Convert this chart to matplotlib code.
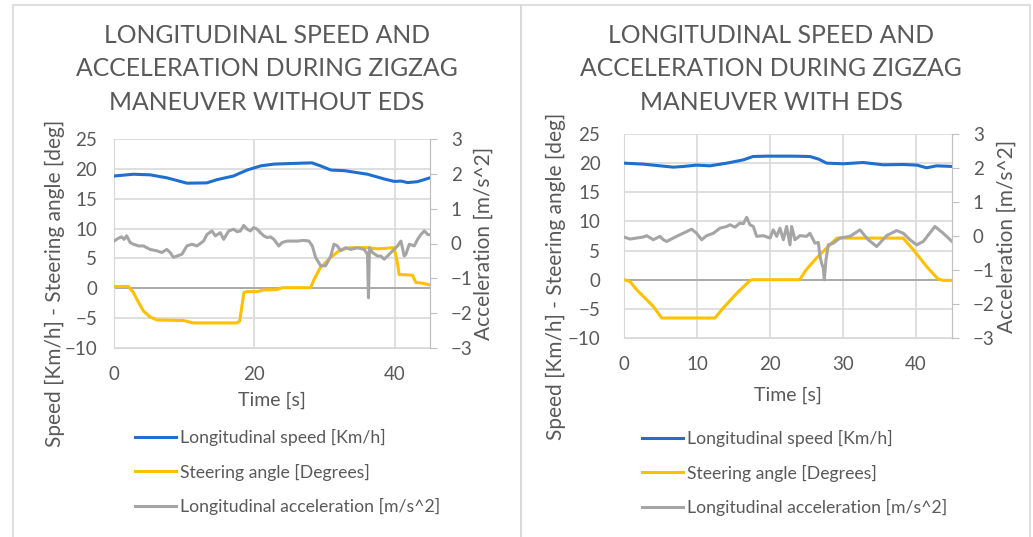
import numpy as np
import matplotlib
matplotlib.use("Agg")
import matplotlib.pyplot as plt
from matplotlib.lines import Line2D
from matplotlib.patches import Rectangle

# ---- data ----
# without EDS
t_spd_a = [0, 2.76, 5.14, 7.52, 10.4, 13.2, 14.7, 17.0, 18.95, 20.9, 22.8, 26.6, 28.2,
           29.4, 30.9, 32.8, 36.1, 38.5, 39.9, 40.9, 41.8, 43.2, 45.0]
spd_a = [18.8, 19.1, 19.0, 18.5, 17.6, 17.65, 18.2, 18.8, 19.8, 20.5, 20.8, 20.95, 21.0,
         20.5, 19.8, 19.7, 19.1, 18.3, 17.9, 17.95, 17.7, 17.85, 18.5]

t_str_a = [0, 2.05, 2.76, 3.24, 4.19, 5.14, 6.1, 9.9, 11.3, 17.5, 17.9, 18.5, 18.95, 20.4,
           21.3, 23.2, 23.95, 28.0, 28.5, 29.4, 30.9, 32.3, 33.7, 36.1, 37.5, 39.9, 40.4,
           40.6, 42.5, 43.0, 43.7, 45.0]
str_a = [0.3, 0.3, -0.7, -1.8, -3.8, -4.8, -5.3, -5.4, -5.8, -5.8, -5.5, -0.7, -0.56, -0.56,
         -0.28, -0.22, 0.1, 0.1, 1.5, 3.5, 5.2, 6.5, 6.8, 6.8, 6.6, 6.8, 4.0, 2.3, 2.2, 0.95,
         0.9, 0.56]

t_acc_a = [0, 0.62, 1.1, 1.43, 1.81, 2.29, 2.76, 3.48, 4.19, 5.14, 6.1, 6.81, 7.52, 8.0,
           8.48, 8.95, 9.67, 10.38, 11.1, 11.8, 12.76, 13.24, 13.95, 14.43, 15.14, 15.62,
           16.33, 17.05, 17.52, 18.0, 18.48, 18.95, 19.43, 19.9, 20.38, 20.86, 21.33, 21.81,
           22.29, 22.76, 23.48, 23.95, 24.67, 25.38, 26.1, 27.05, 27.76, 28.24, 28.71, 29.43,
           30.14, 30.86, 31.33, 31.81, 32.29, 33.0, 33.71, 34.67, 35.62, 36.1, 36.24, 36.38,
           36.81, 37.52, 38.0, 38.48, 38.95, 39.43, 39.9, 40.38, 40.86, 41.33, 41.57, 42.05,
           42.76, 43.24, 43.71, 44.19, 44.67, 45.0]
acc_a = [0.07, 0.15, 0.19, 0.12, 0.22, 0.03, -0.02, -0.07, -0.07, -0.17, -0.21, -0.26,
         -0.17, -0.26, -0.40, -0.36, -0.31, -0.07, -0.02, -0.07, 0.07, 0.26, 0.36, 0.22,
         0.31, 0.12, 0.36, 0.41, 0.34, 0.36, 0.52, 0.41, 0.36, 0.46, 0.41, 0.31, 0.22, 0.17,
         0.19, 0.12, -0.07, 0.03, 0.07, 0.07, 0.07, 0.09, 0.07, -0.07, -0.40, -0.64, -0.64,
         -0.36, -0.02, -0.07, -0.21, -0.12, -0.17, -0.12, -0.17, -0.31, -1.56, -0.12, -0.26,
         -0.36, -0.36, -0.45, -0.36, -0.26, -0.17, -0.07, 0.07, -0.36, -0.31, -0.02, -0.07,
         0.12, 0.26, 0.36, 0.26, 0.25]

# with EDS
t_spd_b = [0, 2.65, 4.94, 6.77, 8.14, 9.97, 11.8, 14.1, 16.4, 17.7, 19.57, 23.2, 25.5,
           26.7, 27.8, 30.1, 32.8, 35.6, 38.3, 40.2, 41.5, 42.9, 45.0]
spd_b = [20.0, 19.83, 19.54, 19.31, 19.43, 19.66, 19.54, 20.0, 20.57, 21.14, 21.2, 21.2,
         21.14, 20.69, 20.0, 19.89, 20.11, 19.71, 19.77, 19.66, 19.2, 19.54, 19.43]

t_str_b = [0, 0.82, 1.74, 2.65, 4.02, 5.17, 12.48, 13.6, 15.5, 17.3, 17.7, 24.1, 25.0,
           26.4, 27.8, 29.2, 38.3, 39.7, 41.5, 43.1, 43.8, 45.0]
str_b = [0, -0.29, -1.71, -2.86, -4.57, -6.57, -6.57, -4.86, -2.29, -0.11, 0, 0, 1.71,
         3.71, 5.43, 7.14, 7.14, 5.14, 2.29, 0.11, -0.11, -0.11]

t_acc_b = [0, 0.82, 1.74, 2.65, 3.11, 4.02, 4.94, 5.4, 5.85, 7.22, 8.6, 9.28, 9.97, 10.65,
           11.34, 12.25, 13.17, 14.08, 14.54, 15.22, 15.91, 16.37, 16.83, 17.28, 17.74,
           18.2, 19.11, 20.03, 20.48, 20.94, 21.4, 21.86, 22.31, 22.77, 23.0, 23.46, 24.14,
           25.06, 25.51, 26.2, 26.66, 26.89, 27.11, 27.34, 27.48, 27.71, 28.03, 28.71,
           29.63, 31.0, 32.37, 33.51, 34.66, 36.03, 37.4, 38.32, 39.23, 40.15, 41.06, 42.66,
           43.8, 45.0]
acc_b = [-0.03, -0.09, -0.06, -0.03, 0.01, -0.11, -0.01, -0.11, -0.16, -0.01, 0.13, 0.20,
         0.08, -0.11, 0.01, 0.08, 0.23, 0.28, 0.33, 0.26, 0.38, 0.36, 0.55, 0.33, 0.28,
         -0.01, 0.01, -0.06, 0.18, -0.01, 0.23, -0.11, 0.28, -0.26, 0.28, -0.11, 0.01,
         -0.01, 0.08, -0.21, -0.19, -0.60, -0.80, -0.94, -1.29, -0.70, -0.26, -0.21, -0.06,
         -0.01, 0.18, -0.11, -0.31, 0.01, 0.16, 0.08, -0.11, -0.26, -0.16, 0.28, 0.08, -0.16]

titles = ["LONGITUDINAL SPEED AND\nACCELERATION DURING ZIGZAG\nMANEUVER WITHOUT EDS",
          "LONGITUDINAL SPEED AND\nACCELERATION DURING ZIGZAG\nMANEUVER WITH EDS"]
labels = ["Longitudinal speed [Km/h]", "Steering angle [Degrees]",
          "Longitudinal acceleration [m/s^2]"]

BLUE, YELLOW, GREY = "#1f6fcf", "#ffc000", "#a5a5a5"
TXT = "#595959"
GRID = "#d9d9d9"
plt.rcParams['font.family'] = ['Lato', 'DejaVu Sans']

W, H = 1033, 537
fig = plt.figure(figsize=(W / 100, H / 100), dpi=100)

def px(x0, y0, x1, y1):
    return [x0 / W, 1 - y1 / H, (x1 - x0) / W, (y1 - y0) / H]

# panel frames
for x0, x1 in [(13, 521), (521, 1030)]:
    fig.patches.append(Rectangle((x0 / W, -0.01), (x1 - x0) / W, 1 - 5 / H + 0.01,
                                 transform=fig.transFigure, fill=False,
                                 edgecolor=GRID, lw=1.2))

panels = [
    dict(box=(114, 139, 430, 348), xstep=20, title_x=267, ylab_x=55, y2lab_x=484,
         xlab_y=400, leg_x=135, leg_y=437, ypad=12,
         data=(t_spd_a, spd_a, t_str_a, str_a, t_acc_a, acc_a)),
    dict(box=(624, 134, 952, 338), xstep=10, title_x=771, ylab_x=556, y2lab_x=1007,
         xlab_y=395, leg_x=642, leg_y=438, ypad=17,
         data=(t_spd_b, spd_b, t_str_b, str_b, t_acc_b, acc_b)),
]

for i, p in enumerate(panels):
    ax = fig.add_axes(px(*p['box']))
    ts, s, tst, st, ta, a = p['data']
    ax.set_xlim(0, 45)
    ax.set_ylim(-10, 25)
    ax.set_yticks(np.arange(-10, 26, 5))
    ax.set_xticks(np.arange(0, 46, p['xstep']))
    ax.grid(True, color=GRID, lw=1.2)
    ax.set_axisbelow(True)
    ax.axhline(0, color="#a6a6a6", lw=1.3, zorder=1)
    for sp in ax.spines.values():
        sp.set_color(GRID)
    ax.spines['top'].set_visible(False)
    ax.tick_params(length=0, labelsize=13.5, colors=TXT)
    ax.tick_params(axis='x', pad=13)
    ax.tick_params(axis='y', pad=p['ypad'])
    ax.plot(ts, s, color=BLUE, lw=2.2, zorder=3)
    ax.plot(tst, st, color=YELLOW, lw=2.2, zorder=3)

    ax2 = ax.twinx()
    ax2.set_ylim(-3, 3)
    ax2.set_yticks(np.arange(-3, 4, 1))
    ax2.plot(ta, a, color=GREY, lw=2.2, zorder=2)
    for sp in ['top', 'left', 'bottom']:
        ax2.spines[sp].set_visible(False)
    ax2.spines['right'].set_color("#bfbfbf")
    ax2.tick_params(axis='y', length=5, labelsize=13.5, colors=TXT, pad=10)
    ax2.tick_params(axis='y', color="#bfbfbf")

    fig.text(p['title_x'] / W, 1 - 69 / H, titles[i], ha='center', va='center',
             fontsize=17.8, color=TXT, linespacing=1.55)
    x0, y0, x1, y1 = p['box']
    fig.text(p['ylab_x'] / W, 1 - ((y0 + y1) / 2 + 40) / H,
             "Speed [Km/h] - Steering angle [deg]", rotation=90, ha='center',
             va='center', fontsize=15, color=TXT)
    fig.text(p['y2lab_x'] / W, 1 - ((y0 + y1) / 2) / H, "Acceleration [m/s^2]",
             rotation=90, ha='center', va='center', fontsize=15, color=TXT)
    fig.text((x0 + x1) / 2 / W, 1 - p['xlab_y'] / H, "Time [s]", ha='center',
             va='center', fontsize=14, color=TXT)

    handles = [Line2D([], [], color=c, lw=2.2) for c in (BLUE, YELLOW, GREY)]
    fig.legend(handles, labels, loc='upper left', frameon=False, fontsize=12.7,
               labelcolor=TXT, handlelength=2.3, handletextpad=0.25,
               labelspacing=1.0, borderaxespad=0, borderpad=0,
               bbox_to_anchor=(p['leg_x'] / W, 1 - (p['leg_y'] - 8) / H))

fig.savefig("out.png", dpi=100)
